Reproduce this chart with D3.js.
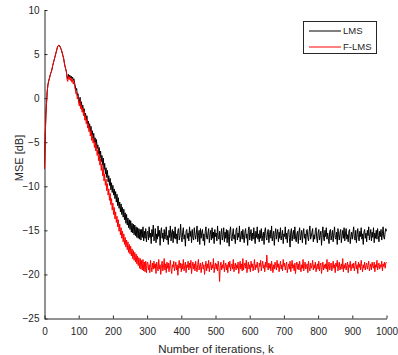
<!DOCTYPE html>
<html>
<head>
<meta charset="utf-8">
<script src="https://cdn.jsdelivr.net/npm/d3@7"></script>
<style>
  html, body { margin: 0; padding: 0; background: #fff; }
  svg { display: block; font-family: "Liberation Sans", Arial, sans-serif; }
</style>
</head>
<body>
<svg id="chart" width="398" height="355"></svg>
<script>
const iterStep = 2;
const seriesNames = ["LMS", "F-LMS"];
const xTicks = [0, 100, 200, 300, 400, 500, 600, 700, 800, 900, 1000];
const yTicks = [-25, -20, -15, -10, -5, 0, 5, 10];

const lms = [
  // k = 0..100
  -8.0, -4.5, -2.0, -0.5, 0.8, 1.5, 1.9, 2.2, 2.5, 2.8, 3.0, 3.3, 3.7, 4.0, 4.3, 4.6, 4.9, 5.2, 5.5, 5.8,
  5.95, 6.0, 5.95, 5.8, 5.6, 5.4, 5.1, 4.8, 4.5, 4.0, 3.6, 3.3, 3.0, 2.4, 2.2, 2.7, 2.4, 2.6, 2.3, 2.5,
  2.2, 2.4, 2.0, 2.2, 1.7, 1.4, 0.9, 1.1, 0.3, 0.5, -0.1,
  // k = 102..300
  -0.6, 0.1, -0.9, -0.4, -1.3, -0.8, -1.6, -1.2, -2.1, -1.7,
  -2.5, -2.0, -2.9, -2.6, -3.4, -2.9, -3.8, -3.2, -4.2, -3.7,
  -4.6, -4.0, -5.0, -4.5, -5.4, -4.7, -5.7, -5.3, -6.3, -5.6,
  -6.8, -6.0, -7.2, -6.5, -7.6, -6.8, -8.1, -7.4, -8.6, -7.9,
  -9.0, -8.2, -9.5, -8.8, -9.9, -9.1, -10.4, -9.6, -10.7, -9.9,
  -11.0, -10.3, -11.4, -10.6, -11.8, -10.9, -12.2, -11.3, -12.5, -11.8,
  -12.9, -12.0, -13.2, -12.4, -13.5, -12.6, -13.8, -13.0, -14.2, -13.2,
  -14.4, -13.6, -14.7, -13.8, -14.9, -13.9, -15.2, -14.2, -15.3, -14.3,
  -15.5, -14.4, -15.6, -14.6, -15.8, -14.7, -15.9, -14.8, -16.0, -14.9,
  -16.1, -14.9, -15.8, -14.6, -16.2, -15.1, -15.9, -14.8, -16.3, -15.2,
  // k = 302..1000
  -15.1, -16.1, -14.6, -15.8, -15.3, -16.5, -14.9, -15.7, -14.4, -16.2,
  -15.9, -14.8, -16.4, -15.4, -16.0, -14.5, -15.7, -15.0, -16.7, -15.2,
  -14.7, -15.9, -15.3, -16.3, -14.9, -16.0, -15.5, -14.6, -16.1, -15.6,
  -16.6, -15.0, -15.8, -14.5, -16.2, -15.3, -14.9, -16.4, -15.1, -15.9,
  -14.6, -16.0, -15.4, -16.5, -15.0, -14.8, -16.1, -15.6, -14.3, -15.8,
  -16.3, -15.2, -14.7, -16.0, -15.5, -16.8, -15.1, -14.9, -15.9, -15.3,
  -16.2, -14.6, -15.7, -15.1, -16.4, -14.9, -15.8, -16.1, -14.7, -15.5,
  -16.0, -15.3, -14.5, -16.3, -15.6, -15.0, -16.6, -14.8, -15.9, -15.2,
  -14.9, -16.2, -15.4, -16.7, -15.1, -14.6, -15.8, -16.0, -15.3, -14.8,
  -16.4, -15.5, -15.0, -16.1, -14.7, -15.9, -15.2, -16.5, -14.9, -15.7,
  -15.3, -16.2, -14.5, -15.8, -16.0, -15.1, -16.6, -15.4, -14.8, -16.1,
  -15.6, -14.7, -16.3, -15.2, -15.9, -14.9, -16.4, -15.0, -15.7, -16.8,
  -15.1, -14.6, -15.9, -16.2, -15.4, -14.8, -16.0, -15.5, -16.5, -15.0,
  -14.7, -16.1, -15.3, -15.8, -14.5, -16.3, -15.6, -15.1, -16.0, -14.9,
  -15.8, -16.4, -15.2, -14.8, -15.9, -15.4, -16.7, -15.0, -14.6, -16.1,
  -15.5, -14.9, -16.2, -15.3, -16.0, -14.7, -15.7, -16.5, -15.1, -15.8,
  -14.6, -16.0, -15.4, -16.3, -15.0, -15.9, -14.8, -16.2, -15.6, -15.2,
  -16.6, -15.1, -14.7, -15.8, -16.1, -15.3, -14.9, -16.4, -15.5, -15.0,
  -15.9, -14.5, -16.2, -15.6, -15.1, -16.7, -15.4, -14.8, -16.0, -15.3,
  -14.9, -16.3, -15.2, -15.9, -14.7, -16.1, -15.6, -15.0, -16.5, -15.4,
  -15.7, -14.6, -16.0, -15.3, -16.4, -15.1, -14.9, -15.8, -16.9, -15.2,
  -14.8, -16.2, -15.5, -15.0, -16.0, -14.6, -15.9, -16.3, -15.4, -15.1,
  -16.5, -15.2, -14.7, -16.1, -15.6, -15.0, -16.4, -15.3, -14.8, -15.9,
  -15.4, -16.6, -15.0, -14.9, -15.8, -16.2, -15.1, -14.5, -16.0, -15.7,
  -15.2, -14.8, -16.3, -15.5, -16.0, -15.0, -14.7, -15.9, -16.4, -15.3,
  -14.9, -16.1, -15.6, -15.1, -16.7, -15.4, -14.6, -15.8, -16.2, -15.0,
  -15.7, -14.7, -16.0, -15.3, -15.9, -16.5, -15.1, -14.9, -16.1, -15.6,
  -15.0, -16.3, -15.4, -14.6, -15.8, -16.0, -15.2, -16.6, -14.8, -15.5,
  -16.1, -15.3, -14.9, -16.4, -15.6, -15.0, -15.9, -14.7, -16.2, -15.4,
  -14.8, -16.0, -15.5, -16.3, -15.1, -14.9, -16.5, -15.7, -15.2, -16.0,
  -15.3, -14.6, -15.9, -16.1, -15.0, -16.4, -15.5, -14.8, -15.8, -16.2,
  -15.1, -15.7, -14.7, -16.0, -15.4, -16.6, -15.2, -14.9, -15.9, -15.3,
  -16.3, -15.0, -15.6, -14.6, -16.1, -15.5, -14.9, -16.2, -15.2, -15.8,
  -14.7, -16.4, -15.3, -15.9, -15.0, -16.0, -14.8, -15.6, -16.3, -15.1,
  -15.7, -14.9, -16.1, -15.4, -14.6, -15.8, -16.0, -15.2, -14.8, -15.1
];

const flms = [
  // k = 0..100
  -8.0, -4.5, -2.0, -0.5, 0.8, 1.5, 1.9, 2.2, 2.5, 2.8, 3.0, 3.3, 3.7, 4.0, 4.3, 4.6, 4.9, 5.2, 5.5, 5.8,
  5.95, 6.0, 5.95, 5.8, 5.6, 5.4, 5.1, 4.8, 4.5, 4.0, 3.6, 3.3, 3.0, 2.1, 1.9, 2.5, 2.1, 2.4, 2.0, 2.3,
  1.8, 2.1, 1.6, 1.9, 1.3, 1.0, 0.5, 0.7, -0.1, 0.2, -0.6,
  // k = 102..300
  -0.9, -0.3, -1.2, -0.8, -1.6, -1.1, -2.0, -1.5, -2.5, -2.0,
  -2.9, -2.4, -3.4, -2.9, -3.8, -3.3, -4.3, -3.7, -4.8, -4.2,
  -5.1, -4.6, -5.6, -5.0, -6.0, -5.4, -6.5, -5.9, -7.1, -6.4,
  -7.6, -6.9, -8.2, -7.5, -8.8, -8.0, -9.4, -8.6, -9.9, -9.2,
  -10.5, -9.7, -11.0, -10.3, -11.6, -10.8, -12.1, -11.4, -12.7, -11.9,
  -13.2, -12.4, -13.7, -12.9, -14.1, -13.4, -14.6, -13.8, -15.1, -14.3,
  -15.5, -14.7, -15.9, -15.1, -16.3, -15.4, -16.6, -15.8, -16.9, -16.1,
  -17.2, -16.3, -17.5, -16.6, -17.7, -16.8, -17.9, -17.1, -18.2, -17.3,
  -18.4, -17.5, -18.6, -17.7, -18.8, -17.9, -19.0, -18.1, -19.3, -18.2,
  -19.4, -18.4, -19.5, -18.3, -19.6, -18.6, -19.7, -18.5, -19.8, -18.7,
  // k = 302..1000
  -18.6, -19.5, -18.9, -19.8, -18.4, -19.2, -19.7, -18.7, -19.4, -18.5,
  -19.3, -18.8, -19.9, -18.6, -19.1, -19.6, -18.3, -19.4, -18.9, -20.0,
  -19.0, -18.5, -19.6, -19.2, -18.2, -19.5, -18.8, -19.8, -18.6, -19.3,
  -18.7, -19.7, -19.0, -18.4, -19.4, -19.9, -18.9, -19.2, -18.5, -19.6,
  -19.1, -18.6, -19.5, -18.9, -20.1, -19.0, -18.4, -19.3, -18.7, -19.7,
  -18.8, -19.4, -18.3, -19.6, -19.0, -18.6, -19.8, -18.9, -19.2, -18.5,
  -19.5, -18.7, -19.3, -18.4, -19.9, -19.1, -18.6, -19.4, -18.8, -19.6,
  -18.5, -19.2, -19.7, -18.9, -18.3, -19.5, -19.0, -18.7, -19.8, -19.1,
  -18.6, -19.4, -18.9, -20.0, -19.2, -18.5, -19.6, -18.8, -19.3, -18.4,
  -19.7, -19.0, -18.6, -19.5, -18.9, -19.3, -18.2, -19.8, -19.1, -18.7,
  -19.4, -18.8, -19.6, -18.5, -19.2, -20.8, -19.0, -18.6, -19.5, -18.9,
  -19.3, -18.4, -19.7, -19.1, -18.7, -19.5, -18.9, -19.8, -18.6, -19.2,
  -18.5, -19.6, -19.0, -18.8, -19.4, -18.3, -19.7, -19.1, -18.7, -19.5,
  -18.9, -19.3, -18.6, -19.9, -19.0, -18.5, -19.4, -18.8, -19.6, -18.2,
  -19.5, -19.0, -18.7, -19.3, -18.4, -19.8, -19.1, -18.6, -19.4, -18.9,
  -19.7, -18.5, -19.2, -18.8, -19.6, -19.0, -18.3, -19.5, -18.9, -19.2,
  -18.6, -19.4, -19.8, -18.7, -19.1, -18.4, -19.6, -19.0, -18.5, -19.3,
  -18.9, -19.7, -18.6, -19.2, -17.8, -19.0, -19.5, -18.7, -19.3, -18.8,
  -19.6, -18.5, -19.1, -19.8, -18.9, -19.4, -18.6, -19.0, -19.5, -18.4,
  -19.2, -18.8, -19.7, -19.0, -18.5, -19.4, -18.9, -19.6, -18.3, -19.1,
  -18.7, -19.5, -19.0, -18.6, -19.8, -19.2, -18.8, -19.4, -18.5, -19.7,
  -19.1, -18.4, -19.3, -18.9, -19.6, -18.7, -19.9, -19.0, -18.6, -19.4,
  -18.8, -19.5, -18.5, -19.2, -19.7, -18.9, -19.3, -18.3, -19.6, -19.0,
  -18.6, -19.4, -19.1, -18.8, -19.8, -18.5, -19.2, -19.6, -18.7, -19.3,
  -19.0, -18.4, -19.5, -18.9, -19.3, -18.6, -19.7, -19.1, -18.8, -19.4,
  -18.5, -19.6, -19.0, -18.7, -19.9, -19.2, -18.6, -19.5, -18.9, -19.3,
  -18.8, -19.4, -18.3, -19.7, -19.1, -18.6, -19.5, -19.0, -18.7, -19.6,
  -19.2, -18.5, -19.3, -18.9, -19.8, -18.7, -19.1, -18.4, -19.6, -19.0,
  -18.6, -19.5, -19.1, -18.8, -19.4, -18.2, -19.7, -18.9, -19.3, -18.7,
  -19.5, -19.0, -18.6, -19.8, -18.9, -19.2, -18.5, -19.6, -19.1, -18.8,
  -19.3, -18.7, -19.6, -19.0, -18.5, -19.4, -18.9, -19.9, -18.6, -19.2,
  -18.8, -19.5, -18.4, -19.1, -19.7, -18.9, -19.3, -18.6, -19.5, -19.0,
  -18.7, -19.4, -19.0, -18.5, -19.6, -19.2, -18.8, -19.5, -18.6, -19.1,
  -19.3, -18.6, -19.7, -18.9, -19.2, -18.4, -19.5, -19.0, -18.7, -19.4,
  -18.9, -19.2, -18.5, -19.6, -18.8, -19.1, -18.6, -19.3, -18.7, -18.6
];

// ---- Layout ----
const svg = d3.select("#chart");
const plotLeft = 44.5, plotRight = 386.5, plotTop = 10, plotBottom = 318.5;
const axisColor = "#262626";

const x = d3.scaleLinear().domain([0, 1000]).range([plotLeft, plotRight]);
const y = d3.scaleLinear().domain([-25, 10]).range([plotBottom, plotTop]);

const xAxis = d3.axisBottom(x).tickValues(xTicks).tickFormat(d3.format("d"))
  .tickSizeInner(-3).tickSizeOuter(0).tickPadding(9);
const yAxis = d3.axisLeft(y).tickValues(yTicks).tickFormat(d3.format("d"))
  .tickSizeInner(-3).tickSizeOuter(0).tickPadding(5);

const gx = svg.append("g").attr("transform", `translate(0,${plotBottom})`).call(xAxis);
const gy = svg.append("g").attr("transform", `translate(${plotLeft},0)`).call(yAxis);
[gx, gy].forEach(g => {
  g.attr("font-family", "Liberation Sans, Arial, sans-serif").attr("font-size", 10);
  g.selectAll("path, line").attr("stroke", axisColor);
  g.selectAll("text").attr("fill", axisColor);
});

// ---- Lines ----
const line = d3.line()
  .x((d, i) => x(i * iterStep))
  .y(d => y(d));

svg.append("path").datum(lms)
  .attr("fill", "none").attr("stroke", "#000000").attr("stroke-width", 1)
  .attr("stroke-linejoin", "round").attr("d", line);
svg.append("path").datum(flms)
  .attr("fill", "none").attr("stroke", "#ff0000").attr("stroke-width", 1)
  .attr("stroke-linejoin", "round").attr("d", line);

// ---- Axis labels ----
svg.append("text")
  .attr("x", 216).attr("y", 353)
  .attr("text-anchor", "middle")
  .attr("font-size", 11.5).attr("fill", axisColor)
  .text("Number of iterations, k");

svg.append("text")
  .attr("transform", "translate(22.5,158) rotate(-90)")
  .attr("text-anchor", "middle")
  .attr("font-size", 11).attr("fill", axisColor)
  .text("MSE [dB]");

// ---- Legend ----
const legendColors = ["#000000", "#ff0000"];
const lg = svg.append("g");
lg.append("rect")
  .attr("x", 303.5).attr("y", 21.5).attr("width", 73).attr("height", 32)
  .attr("fill", "#fff").attr("stroke", axisColor).attr("stroke-width", 1);
seriesNames.forEach((name, i) => {
  const yy = 31 + i * 16;
  lg.append("line").attr("x1", 309).attr("x2", 341).attr("y1", yy).attr("y2", yy)
    .attr("stroke", legendColors[i]).attr("stroke-width", 1);
  lg.append("text").attr("x", 343).attr("y", yy).attr("dy", "0.35em")
    .attr("font-size", 9.5).attr("fill", axisColor).text(name);
});
</script>
</body>
</html>
